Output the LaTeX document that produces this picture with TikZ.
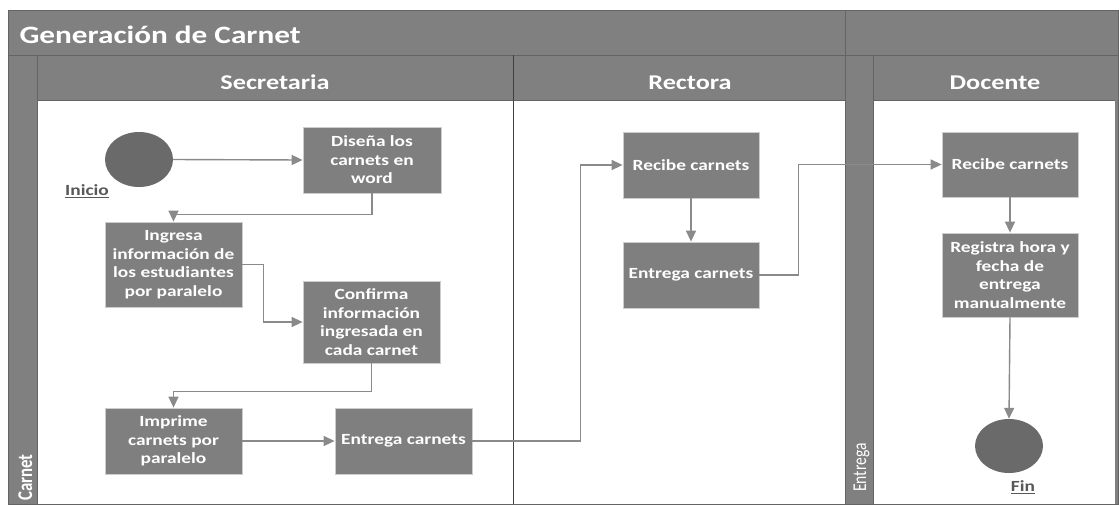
\documentclass[tikz,border=0pt]{standalone}
\usepackage{fontspec}
\setmainfont{Carlito}[FakeStretch=1.25]
\newfontfamily\rotfont{Carlito}[FakeStretch=0.8]
\usetikzlibrary{arrows.meta,shapes.geometric,calc}

\definecolor{band}{RGB}{128,128,128}
\definecolor{frameline}{RGB}{100,100,100}
\definecolor{boxfill}{RGB}{127,127,127}
\definecolor{boxedge}{RGB}{205,205,205}
\definecolor{dotfill}{RGB}{106,106,106}
\definecolor{wire}{RGB}{138,138,138}
\definecolor{caption}{RGB}{88,88,88}

\tikzset{
  act/.style={rectangle, fill=boxfill, draw=boxedge, line width=0.8pt,
    minimum width=137pt, minimum height=66pt, inner sep=0pt,
    text=white, align=center, font=\bfseries\fontsize{15.5}{18.5}\selectfont},
  terminal/.style={ellipse, fill=dotfill, draw=none,
    minimum width=68pt, minimum height=55pt, inner sep=0pt},
  flow/.style={draw=wire, line width=1.4pt, -{Triangle[length=11pt,width=10pt]}},
  rule/.style={draw=frameline, line width=0.9pt},
  lanehead/.style={text=white, anchor=base, font=\bfseries\fontsize{21}{24}\selectfont},
  tag/.style={text=caption, font=\bfseries\fontsize{15.5}{18}\selectfont},
}

\begin{document}
\begin{tikzpicture}[x=1pt,y=-1pt]
\useasboundingbox (0,0) rectangle (1119,504);
\fill[white] (0,0) rectangle (1119,504);

% pool frame and lanes
\fill[band] (8,10) rectangle (1118,504);
\fill[white] (37,100) rectangle (845,504);
\fill[white] (873,100) rectangle (1115,504);
\draw[rule] (8,10) rectangle (1118,504);
\draw[rule] (8,55) -- (1118,55);
\draw[rule] (37,55) -- (37,504);
\draw[rule] (845,10) -- (845,504);
\draw[rule] (873,55) -- (873,504);
\draw[rule] (37,100) -- (845,100);
\draw[rule] (873,100) -- (1115,100);
\draw[draw=black!75, line width=0.9pt] (513,55) -- (513,504);

% titles
\node[anchor=base west, text=white, font=\bfseries\fontsize{25}{28}\selectfont]
  (title) at (16,43) {Generación de Carnet};
\node[lanehead] (hsec) at (275,89) {Secretaria};
\node[lanehead] (hrec) at (690,89) {Rectora};
\node[lanehead] (hdoc) at (995,89) {Docente};
\node[anchor=base west, rotate=90, text=white, inner sep=0pt,
  font=\rotfont\bfseries\fontsize{21}{24}\selectfont] (lcarnet) at (32,501) {Carnet};
\node[anchor=base west, rotate=90, text=white, inner sep=0pt,
  font=\rotfont\fontsize{19.5}{22}\selectfont] (lentrega) at (866,492) {Entrega};

% activities
\node[terminal] (inicio) at (139,159.5) {};
\node[tag] (tinicio) at (87,191) {\underline{Inicio}};
\node[act, minimum width=138pt] (disena) at (372,160) {Diseña los\\carnets en\\word};
\node[act, minimum height=85pt] (ingresa) at (173.5,264.5)
  {Ingresa\\información de\\los estudiantes\\por paralelo};
\node[act, minimum height=82pt] (confirma) at (371.5,322)
  {Confirma\\información\\ingresada en\\cada carnet};
\node[act] (imprime) at (173.5,441) {Imprime\\carnets por\\paralelo};
\node[act] (entregaS) at (403.5,441) {Entrega carnets};
\node[act, minimum width=136pt] (recibeR) at (691,165) {Recibe carnets};
\node[act, minimum width=136pt] (entregaR) at (691,275) {Entrega carnets};
\node[act, minimum width=136pt, minimum height=65pt] (recibeD) at (1010,164.5) {Recibe carnets};
\node[act, minimum width=136pt, minimum height=84pt] (registra) at (1010,275)
  {Registra hora y\\fecha de\\entrega\\manualmente};
\node[terminal, minimum height=54pt] (fin) at (1009,446) {};
\node[tag] (tfin) at (1023,487) {\underline{Fin}};

% flow
\draw[flow] (inicio.east) -- (disena.west);
\draw[flow] (disena.south) -- ++(0,21) -| (ingresa.north);
\draw[flow] (ingresa.east) -- ++(21,0) |- (confirma.west);
\draw[flow] (confirma.south) -- ++(0,28) -| (imprime.north);
\draw[flow] (imprime.east) -- (entregaS.west);
\draw[flow] (entregaS.east) -| ($(recibeR.west)+(-42,0)$) -- (recibeR.west);
\draw[flow] (recibeR.south) -- (entregaR.north);
\draw[flow] (entregaR.east) -| ($(recibeD.west)+(-143,0)$) -- (recibeD.west);
\draw[flow] (recibeD.south) -- (registra.north);
\draw[flow] (registra.south) -- (fin.north);
\end{tikzpicture}
\end{document}
